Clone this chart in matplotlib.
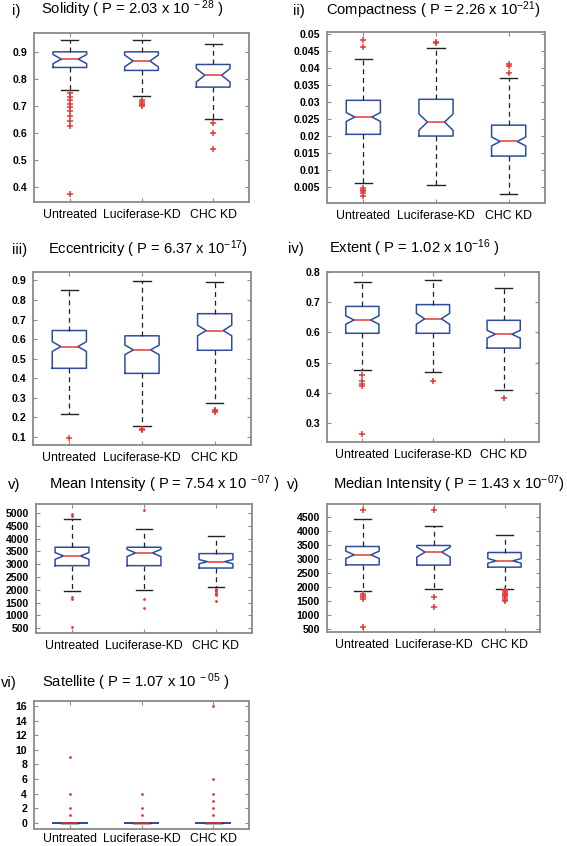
import matplotlib
matplotlib.use("Agg")
import matplotlib.pyplot as plt
from matplotlib.ticker import MultipleLocator, FuncFormatter

plt.rcParams["font.family"] = ["Liberation Sans", "DejaVu Sans"]
plt.rcParams["mathtext.fontset"] = "custom"
plt.rcParams["mathtext.rm"] = "Liberation Sans"
plt.rcParams["mathtext.it"] = "Liberation Sans"

groups = ["Untreated", "Luciferase-KD", "CHC KD"]

# i) solidity
sol_med = [0.875, 0.868, 0.815]
sol_q1 = [0.844, 0.833, 0.771]
sol_q3 = [0.902, 0.902, 0.855]
sol_lo = [0.760, 0.737, 0.652]
sol_hi = [0.945, 0.945, 0.930]
sol_ci = [0.017, 0.022, 0.025]
sol_out = [[0.748, 0.735, 0.722, 0.709, 0.696, 0.682, 0.665, 0.645, 0.626, 0.372],
           [0.723, 0.716, 0.710, 0.705, 0.700],
           [0.636, 0.600, 0.541]]

# ii) compactness
com_med = [0.0257, 0.0242, 0.0185]
com_q1 = [0.0206, 0.0201, 0.0142]
com_q3 = [0.0306, 0.0309, 0.0233]
com_lo = [0.0064, 0.0058, 0.0031]
com_hi = [0.0429, 0.0461, 0.0372]
com_ci = [0.0013, 0.0024, 0.0013]
com_out = [[0.0483, 0.0464, 0.0047, 0.0043, 0.0038, 0.0032, 0.0025],
           [0.0478, 0.0474],
           [0.0412, 0.0407, 0.0385]]

# iii) eccentricity
ecc_med = [0.562, 0.545, 0.644]
ecc_q1 = [0.451, 0.425, 0.543]
ecc_q3 = [0.644, 0.617, 0.730]
ecc_lo = [0.219, 0.157, 0.272]
ecc_hi = [0.849, 0.898, 0.893]
ecc_ci = [0.025, 0.024, 0.027]
ecc_out = [[0.097], [0.143, 0.138], [0.238, 0.232, 0.226]]

# iv) extent
ext_med = [0.641, 0.645, 0.594]
ext_q1 = [0.597, 0.597, 0.548]
ext_q3 = [0.686, 0.692, 0.640]
ext_lo = [0.475, 0.468, 0.409]
ext_hi = [0.766, 0.775, 0.746]
ext_ci = [0.014, 0.018, 0.013]
ext_out = [[0.460, 0.439, 0.430, 0.421, 0.262], [0.440], [0.384]]

# v) mean intensity
mean_med = [3325, 3442, 3102]
mean_q1 = [2945, 2945, 2853]
mean_q3 = [3665, 3665, 3416]
mean_lo = [1963, 1976, 2094]
mean_hi = [4764, 4372, 4123]
mean_ci = [130, 140, 80]
mean_out = [[4973, 4894, 1703, 1625, 549],
            [5118, 1637, 1311],
            [2040, 1990, 1940, 1890, 1840, 1800, 1585]]

# v) median intensity
medi_med = [3156, 3253, 2939]
medi_q1 = [2795, 2785, 2713]
medi_q3 = [3455, 3491, 3239]
medi_lo = [1858, 1930, 1920]
medi_hi = [4453, 4200, 3877]
medi_ci = [132, 180, 84]
medi_out = [[4752, 1740, 1690, 1630, 1570, 572],
            [4752, 1653, 1282],
            [1880, 1840, 1800, 1760, 1720, 1660, 1600, 1540, 1490]]

# vi) satellite
sat_med = [0, 0, 0]
sat_q1 = [0, 0, 0]
sat_q3 = [0, 0, 0]
sat_lo = [0, 0, 0]
sat_hi = [0, 0, 0]
sat_ci = [0, 0, 0]
sat_out = [[1, 2, 4, 9], [1, 2, 4], [1, 2, 3, 4, 6, 16]]

W, H = 567, 846
BLUE = "#2f4d9c"
RED = "#e23a3a"
FRAME = "#8a8a8a"

fig = plt.figure(figsize=(W / 100, H / 100), dpi=100)


def make_axes(l, t, r, b):
    return fig.add_axes([l / W, 1 - b / H, (r - l) / W, (b - t) / H])


def panel(ax, med, q1, q3, lo, hi, ci, out, ylim, step, dots=False, xpad=5):
    stats = []
    for i in range(3):
        stats.append(dict(med=med[i], q1=q1[i], q3=q3[i], whislo=lo[i], whishi=hi[i],
                          cilo=med[i] - ci[i], cihi=med[i] + ci[i], fliers=out[i]))
    if dots:
        fp = dict(marker=".", markersize=2.0, markerfacecolor=RED, markeredgecolor=RED, linestyle="none")
    else:
        fp = dict(marker="+", markersize=4.5, markeredgecolor=RED, markeredgewidth=1.1, linestyle="none")
    ax.bxp(stats, positions=[1, 2, 3], widths=0.47, shownotches=True,
           boxprops=dict(color=BLUE, linewidth=1.1),
           medianprops=dict(color=RED, linewidth=1.1),
           whiskerprops=dict(color="#222222", linewidth=0.9, linestyle=(0, (4, 3))),
           capprops=dict(color="#222222", linewidth=1.0),
           flierprops=fp)
    ax.set_xlim(0.5, 3.5)
    ax.set_ylim(*ylim)
    ax.yaxis.set_major_locator(MultipleLocator(step))
    ax.yaxis.set_major_formatter(FuncFormatter(lambda v, p: "%g" % round(v, 6)))
    ax.set_xticks([1, 2, 3])
    ax.set_xticklabels(groups, fontsize=8.8)
    ax.tick_params(axis="x", direction="in", length=3, color=FRAME, top=True, pad=xpad)
    ax.tick_params(axis="y", direction="in", length=3, color=FRAME, right=True, pad=5,
                   labelsize=7.6)
    for lab in ax.get_yticklabels():
        lab.set_fontweight("bold")
    for s in ax.spines.values():
        s.set_color(FRAME)
        s.set_linewidth(1.3)


def title(num, nx, tx, by, txt):
    fig.text(nx / W, 1 - by / H, num, fontsize=10.6, va="baseline", ha="left")
    fig.text(tx / W, 1 - by / H, txt, fontsize=10.6, va="baseline", ha="left")


ax1 = make_axes(34, 33, 249, 202)
panel(ax1, sol_med, sol_q1, sol_q3, sol_lo, sol_hi, sol_ci, sol_out, (0.344, 0.972), 0.1)
title("i)", 12, 41, 14.5, r"Solidity ( P = 2.03 x 10$^{\ -28}$ )")

ax2 = make_axes(327, 32, 545, 203)
panel(ax2, com_med, com_q1, com_q3, com_lo, com_hi, com_ci, com_out, (0.0004, 0.0507), 0.005)
title("ii)", 293, 326, 14.8, r"Compactness ( P = 2.26 x 10$^{-21}$)")

ax3 = make_axes(33, 272, 251, 445)
panel(ax3, ecc_med, ecc_q1, ecc_q3, ecc_lo, ecc_hi, ecc_ci, ecc_out, (0.059, 0.943), 0.1)
title("iii)", 12, 48, 254, r"Eccentricity ( P = 6.37 x 10$^{-17}$)")

ax4 = make_axes(327, 272, 539, 442)
panel(ax4, ext_med, ext_q1, ext_q3, ext_lo, ext_hi, ext_ci, ext_out, (0.237, 0.8), 0.1)
title("iv)", 288, 329, 253.3, r"Extent ( P = 1.02 x 10$^{-16}$ )")

ax5 = make_axes(36, 504, 252, 633)
panel(ax5, mean_med, mean_q1, mean_q3, mean_lo, mean_hi, mean_ci, mean_out, (316, 5353), 500,
      dots=True)
title("v)", 8, 49, 489, r"Mean Intensity ( P = 7.54 x 10$^{\ -07}$ )")

ax6 = make_axes(327, 504, 540, 632)
panel(ax6, medi_med, medi_q1, medi_q3, medi_lo, medi_hi, medi_ci, medi_out, (381, 4983), 500)
title("v)", 287, 333, 489, r"Median Intensity ( P = 1.43 x 10$^{-07}$)")

ax7 = make_axes(34, 701, 249, 829)
panel(ax7, sat_med, sat_q1, sat_q3, sat_lo, sat_hi, sat_ci, sat_out, (-0.86, 16.7), 2, dots=True,
      xpad=3)
title("vi)", 1, 42, 687, r"Satellite ( P = 1.07 x 10$^{\ -05}$ )")

fig.savefig("out.png", dpi=100)
